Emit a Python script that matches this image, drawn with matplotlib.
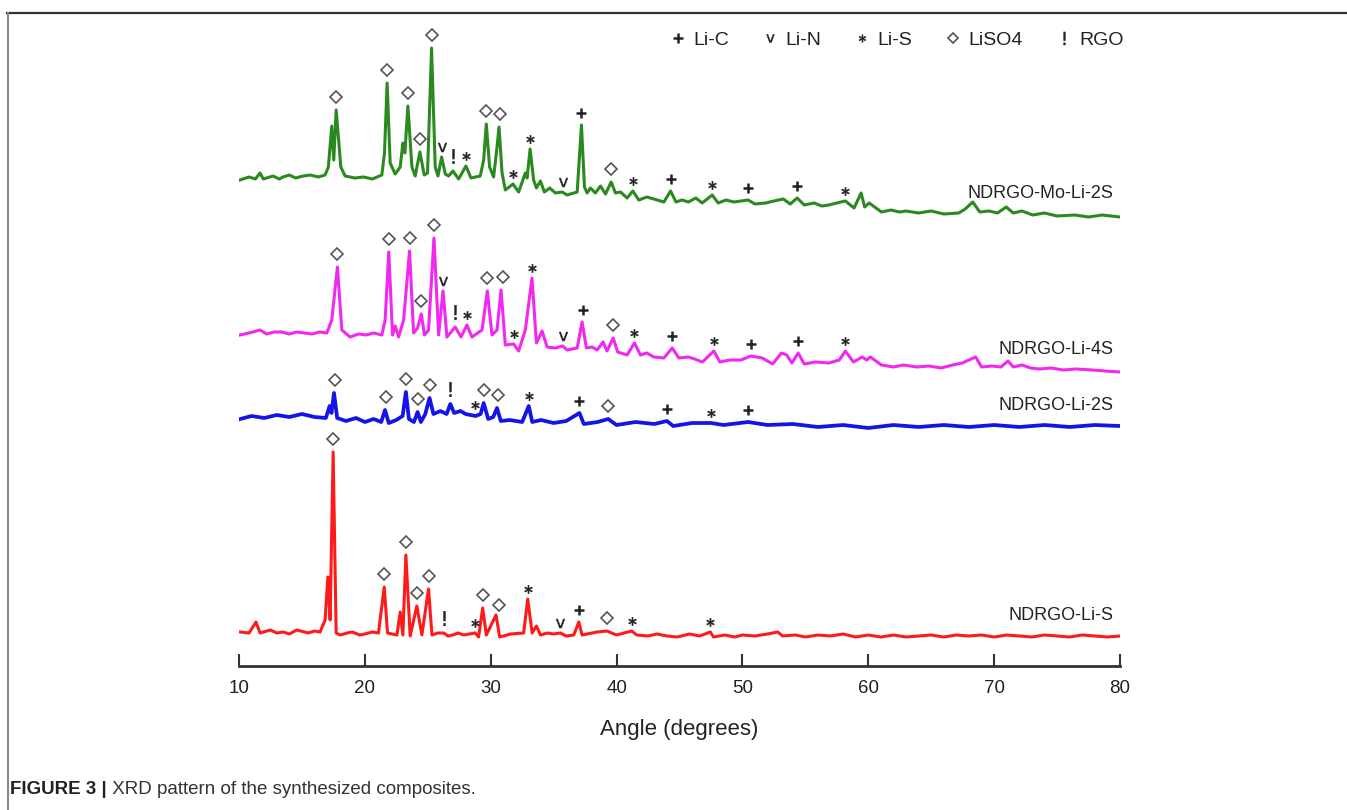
import matplotlib.pyplot as plt
from matplotlib.lines import Line2D
import numpy as np

plt.rcParams["font.family"] = ["Liberation Sans", "DejaVu Sans"]

# =========================
# DADOS
# =========================

# NDRGO-Mo-Li-2S
angle_mo = [10.08, 10.8, 11.3, 11.67, 11.93, 12.7, 13.2, 13.5, 14.0, 14.5,
            15.1, 15.65, 16.3, 16.84, 17.1, 17.37, 17.53, 17.72, 18.09, 18.43,
            19.2, 19.89, 20.6, 21.35, 21.56, 21.77, 22.01, 22.41, 22.81, 23.02,
            23.18, 23.42, 23.74, 24.0, 24.37, 24.72, 24.98, 25.30, 25.59, 25.81,
            26.1, 26.39, 26.65, 27.0, 27.45, 28.03, 28.43, 29.17, 29.44, 29.65,
            29.91, 30.23, 30.45, 30.66, 30.9, 31.16, 31.77, 32.22, 32.75, 32.89,
            33.13, 33.41, 33.63, 33.95, 34.26, 34.69, 35.14, 35.67, 36.07, 36.87,
            37.21, 37.45, 37.66, 37.92, 38.32, 38.72, 39.12, 39.57, 39.91, 40.31,
            40.84, 41.29, 41.77, 42.4, 42.96, 43.76, 44.29, 44.72, 45.2, 45.7,
            46.3, 46.8, 47.6, 48.07, 48.7, 49.33, 50.45, 51.0, 51.84, 52.5,
            53.24, 53.8, 54.35, 54.91, 55.7, 56.3, 56.86, 57.5, 58.18, 58.87,
            59.43, 59.71, 60.07, 61.05, 61.8, 62.5, 63.0, 64.0, 65.0, 66.0,
            67.19, 67.7, 68.3, 68.86, 69.6, 70.26, 70.96, 71.52, 72.21, 73.06,
            74.0, 75.0, 76.4, 77.5, 78.6, 80.0]
int_mo = [37, 40, 38, 44, 38, 41, 38, 40, 42, 39,
          41, 42, 40, 42, 50, 91, 57, 107, 50, 41,
          39, 40, 38, 42, 64, 134, 54, 43, 50, 74,
          64, 111, 50, 41, 65, 42, 44, 169, 50, 41,
          60, 43, 41, 46, 38, 51, 39, 41, 57, 93,
          50, 40, 64, 90, 44, 27, 33, 25, 44, 39,
          68, 37, 29, 36, 25, 29, 24, 25, 22, 25,
          92, 30, 24, 29, 24, 31, 23, 35, 24, 25,
          19, 26, 17, 20, 18, 15, 26, 15, 17, 15,
          19, 14, 22, 14, 17, 15, 17, 13, 14, 16,
          18, 13, 19, 12, 14, 11, 12, 14, 16, 9,
          24, 10, 14, 5, 7, 5, 6, 4, 6, 3,
          4, 8, 15, 5, 6, 4, 10, 4, 6, 2,
          4, 1, 2, 0, 2, 0]

# NDRGO-Li-4S
angle_4s = [10.08, 10.8, 11.67, 12.2, 12.8, 13.4, 14.0, 14.59, 15.2, 15.8,
            16.4, 16.98, 17.37, 17.82, 18.17, 18.83, 19.5, 20.1, 20.7, 21.35,
            21.61, 21.9, 22.2, 22.41, 22.68, 23.08, 23.55, 23.87, 24.19, 24.48,
            24.74, 25.06, 25.49, 25.86, 26.21, 26.52, 27.18, 27.64, 28.11, 28.51,
            29.31, 29.73, 30.1, 30.5, 30.82, 31.16, 31.82, 32.22, 32.75, 33.28,
            33.63, 34.08, 34.48, 35.14, 35.72, 36.07, 36.87, 37.26, 37.6, 38.06,
            38.45, 38.93, 39.24, 39.73, 40.09, 40.84, 41.42, 41.9, 42.4, 42.96,
            43.76, 44.42, 44.95, 45.7, 46.2, 46.82, 47.73, 48.21, 49.0, 49.89,
            50.67, 51.56, 52.4, 53.1, 53.52, 53.93, 54.43, 54.91, 55.8, 56.87,
            57.7, 58.18, 58.82, 59.51, 59.88, 60.16, 61.05, 62.0, 62.8, 63.85,
            64.8, 65.8, 66.7, 67.47, 68.53, 69.0, 69.8, 70.54, 71.1, 71.52,
            72.21, 72.9, 73.61, 74.5, 75.5, 76.5, 77.8, 78.8, 80.0]
int_4s = [37, 39, 42, 38, 40, 40, 38, 40, 39, 38,
          40, 39, 52, 105, 42, 35, 38, 37, 39, 37,
          52, 120, 37, 46, 35, 52, 121, 39, 44, 58,
          37, 42, 134, 37, 81, 35, 45, 35, 47, 35,
          42, 81, 37, 42, 82, 27, 28, 21, 42, 94,
          29, 41, 25, 24, 26, 22, 24, 50, 24, 25,
          22, 30, 21, 34, 20, 17, 29, 17, 19, 15,
          14, 24, 14, 15, 13, 10, 21, 10, 12, 12,
          16, 14, 8, 19, 17, 9, 19, 8, 10, 9,
          12, 21, 10, 15, 12, 15, 7, 5, 7, 5,
          6, 4, 7, 9, 15, 5, 6, 5, 11, 5,
          7, 4, 3, 4, 2, 3, 2, 1, 0]

# NDRGO-Li-2S
angle_2s = [10.1, 11.0, 12.0, 13.0, 14.0, 15.0, 16.0, 16.9, 17.2, 17.35,
            17.55, 17.8, 18.5, 19.3, 20.0, 20.7, 21.3, 21.6, 21.9, 22.5,
            23.0, 23.26, 23.5, 23.9, 24.19, 24.45, 24.8, 25.14, 25.45, 26.0,
            26.5, 26.79, 27.1, 27.6, 28.0, 28.8, 29.2, 29.44, 29.8, 30.2,
            30.5, 30.8, 31.5, 32.5, 33.02, 33.3, 34.0, 35.0, 36.0, 37.05,
            37.4, 38.5, 39.33, 40.0, 41.5, 43.0, 44.0, 44.5, 46.0, 47.5,
            48.5, 50.45, 52.0, 54.0, 56.0, 58.0, 60.0, 62.0, 64.0, 66.0,
            68.0, 70.0, 72.0, 74.0, 76.0, 78.0, 80.0]
int_2s = [9, 12, 10, 13, 11, 14, 11, 10, 22, 15,
          35, 10, 7, 10, 6, 9, 6, 18, 5, 8,
          12, 36, 9, 6, 16, 6, 14, 30, 14, 17,
          14, 24, 15, 17, 14, 12, 14, 25, 9, 11,
          20, 7, 8, 6, 22, 6, 8, 5, 7, 15,
          4, 6, 9, 3, 6, 4, 7, 2, 5, 5,
          3, 6, 3, 4, 1, 3, 0, 3, 1, 3,
          1, 3, 1, 3, 1, 3, 2]

# NDRGO-Li-S
angle_s = [10.08, 10.8, 11.35, 11.67, 12.5, 13.0, 13.5, 14.0, 14.59, 15.5,
           16.0, 16.44, 16.84, 17.06, 17.24, 17.48, 17.72, 18.04, 18.6, 19.0,
           19.6, 20.0, 20.6, 21.08, 21.54, 21.8, 22.55, 22.81, 23.02, 23.26,
           23.6, 24.13, 24.53, 25.06, 25.33, 25.8, 26.26, 26.6, 27.0, 27.4,
           27.84, 28.3, 28.77, 29.04, 29.36, 29.65, 30.42, 30.71, 31.6, 32.62,
           32.94, 33.29, 33.63, 33.95, 34.5, 35.0, 35.54, 36.0, 36.6, 37.0,
           37.26, 38.45, 39.24, 40.0, 40.6, 41.2, 41.6, 42.5, 43.2, 44.0,
           44.82, 45.8, 46.6, 47.45, 47.7, 48.6, 49.4, 50.0, 51.0, 52.0,
           52.8, 53.2, 54.2, 55.0, 56.0, 57.0, 58.0, 59.0, 60.0, 61.0,
           62.0, 63.0, 64.0, 65.0, 66.0, 67.0, 68.0, 69.0, 70.0, 71.0,
           72.0, 73.0, 74.0, 75.0, 76.0, 77.0, 78.0, 79.0, 80.0]
int_s = [6, 5, 16, 5, 8, 5, 6, 4, 8, 5,
         7, 6, 18, 61, 18, 186, 5, 3, 5, 6,
         3, 4, 6, 5, 51, 5, 3, 26, 3, 83,
         2, 32, 3, 49, 3, 5, 5, 2, 3, 5,
         3, 4, 5, 1, 30, 3, 23, 1, 4, 5,
         39, 5, 12, 3, 5, 4, 5, 2, 3, 16,
         3, 6, 7, 3, 5, 7, 3, 2, 4, 2,
         1, 4, 2, 6, 1, 3, 1, 3, 2, 4,
         6, 2, 3, 1, 3, 2, 4, 1, 3, 1,
         3, 1, 2, 3, 1, 3, 2, 3, 1, 3,
         2, 1, 3, 2, 1, 3, 2, 1, 2]

# deslocamento vertical de cada padrão (a.u.)
offsets = [483, 328, 272, 62]

# picos identificados (ângulo, fase)
peaks_mo = [17.72, 21.77, 23.42, 24.37, 25.30, 26.1, 27.0, 28.03, 29.65, 30.75,
            31.77, 33.13, 35.72, 37.21, 39.57, 41.29, 44.29, 47.6, 50.45, 54.35, 58.18]
phase_mo = ["LiSO4", "LiSO4", "LiSO4", "LiSO4", "LiSO4", "Li-N", "RGO", "Li-S", "LiSO4", "LiSO4",
            "Li-S", "Li-S", "Li-N", "Li-C", "LiSO4", "Li-S", "Li-C", "Li-S", "Li-C", "Li-C", "Li-S"]

peaks_4s = [17.82, 21.9, 23.6, 24.48, 25.5, 26.21, 27.15, 28.15, 29.73, 30.98,
            31.85, 33.28, 35.72, 37.35, 39.73, 41.42, 44.44, 47.73, 50.67, 54.43, 58.18]
phase_4s = phase_mo

peaks_2s = [17.64, 21.67, 23.29, 24.21, 25.14, 26.79, 28.72, 29.49, 30.58, 33.02,
            37.05, 39.33, 44.03, 47.5, 50.45]
phase_2s = ["LiSO4", "LiSO4", "LiSO4", "LiSO4", "LiSO4", "RGO", "Li-S", "LiSO4", "LiSO4", "Li-S",
            "Li-C", "LiSO4", "Li-C", "Li-S", "Li-C"]

peaks_s = [17.48, 21.54, 23.26, 24.13, 25.06, 26.31, 28.72, 29.36, 30.66, 32.94,
           35.54, 37.0, 39.24, 41.2, 47.45]
phase_s = ["LiSO4", "LiSO4", "LiSO4", "LiSO4", "LiSO4", "RGO", "Li-S", "LiSO4", "LiSO4", "Li-S",
           "Li-N", "Li-C", "LiSO4", "Li-S", "Li-S"]

names = ["NDRGO-Mo-Li-2S", "NDRGO-Li-4S", "NDRGO-Li-2S", "NDRGO-Li-S"]
colors = ["#2b8a1f", "#f028f0", "#1414e6", "#ff1a1a"]
phases = ["Li-C", "Li-N", "Li-S", "LiSO4", "RGO"]

# =========================
# ESTILO DOS SÍMBOLOS
# =========================

sym = {
    "Li-C": dict(marker="+", ms=7.5, mew=1.8, color="#222"),
    "Li-N": dict(marker=r"$\mathsf{v}$", ms=6.5, mew=0.3, color="#222"),
    "Li-S": dict(marker=r"$\ast$", ms=6, mew=0.4, color="#222"),
    "LiSO4": dict(marker="D", ms=6.2, mew=1.2, mfc="none", mec="#555"),
    "RGO": dict(marker=r"$!$", ms=10.5, mew=0.3, color="#222"),
}
gap = {"Li-C": 12, "Li-N": 10, "Li-S": 10, "LiSO4": 13, "RGO": 15}

# =========================
# FIGURA
# =========================

fig = plt.figure(figsize=(13.47, 8.1), dpi=100)
ax = fig.add_axes([239 / 1347, 144 / 810, 881 / 1347, 646 / 810])

data = [(angle_mo, int_mo, peaks_mo, phase_mo),
        (angle_4s, int_4s, peaks_4s, phase_4s),
        (angle_2s, int_2s, peaks_2s, phase_2s),
        (angle_s, int_s, peaks_s, phase_s)]

for (ang, inten, pk, ph), off, c, name in zip(data, offsets, colors, names):
    ang = np.array(ang)
    inten = np.array(inten)
    lw = 2.7 if name == "NDRGO-Li-2S" else 2.2
    ax.plot(ang, off + inten, color=c, lw=lw, solid_joinstyle="round")
    for a, p in zip(pk, ph):
        win = np.linspace(a - 0.2, a + 0.2, 41)
        h = np.interp(win, ang, inten).max() + gap[p]
        ax.plot(a, off + h, ls="none", clip_on=False, zorder=4, **sym[p])
    ax.text(79.5, off + 23, name, ha="right", va="center", fontsize=13, color="#222")

ax.set_xlim(10, 80)
ax.set_ylim(34, 680)
ax.set_xticks(np.arange(10, 81, 10))
ax.set_yticks([])
for s in ("left", "right", "top"):
    ax.spines[s].set_visible(False)
ax.spines["bottom"].set_linewidth(2)
ax.spines["bottom"].set_color("#333")
ax.tick_params(axis="x", direction="in", length=8.5, width=1.5, color="#333",
               labelcolor="#222", labelsize=13.5, pad=10)
ax.set_xlabel("Angle (degrees)", fontsize=16, color="#222", labelpad=16)
ax.patch.set_alpha(0)

# legenda
handles = [Line2D([], [], ls="none", **{**sym[p], "ms": sym[p]["ms"] * 0.9}) for p in phases]
fig.legend(handles, phases, loc="center", bbox_to_anchor=(898 / 1347, 1 - 40 / 810),
           ncol=5, frameon=False, fontsize=14, handlelength=0.6, handletextpad=0.5,
           columnspacing=1.8, labelcolor="#222")

# moldura e legenda da figura
fig.add_artist(Line2D([7 / 1347, 1], [1 - 12.5 / 810] * 2, color="#333", lw=1.6))
fig.add_artist(Line2D([7.5 / 1347] * 2, [0, 1 - 12.5 / 810], color="#888", lw=1.5))

t1 = fig.text(10 / 1347, 1 - 790 / 810, "FIGURE 3 |", fontsize=13.5, fontweight="bold",
              color="#222", va="center")
ax.annotate(" XRD pattern of the synthesized composites.", xy=(1, 0.5), xycoords=t1,
            va="center", ha="left", fontsize=13.5, color="#333", annotation_clip=False)

plt.savefig("out.png", dpi=100)
